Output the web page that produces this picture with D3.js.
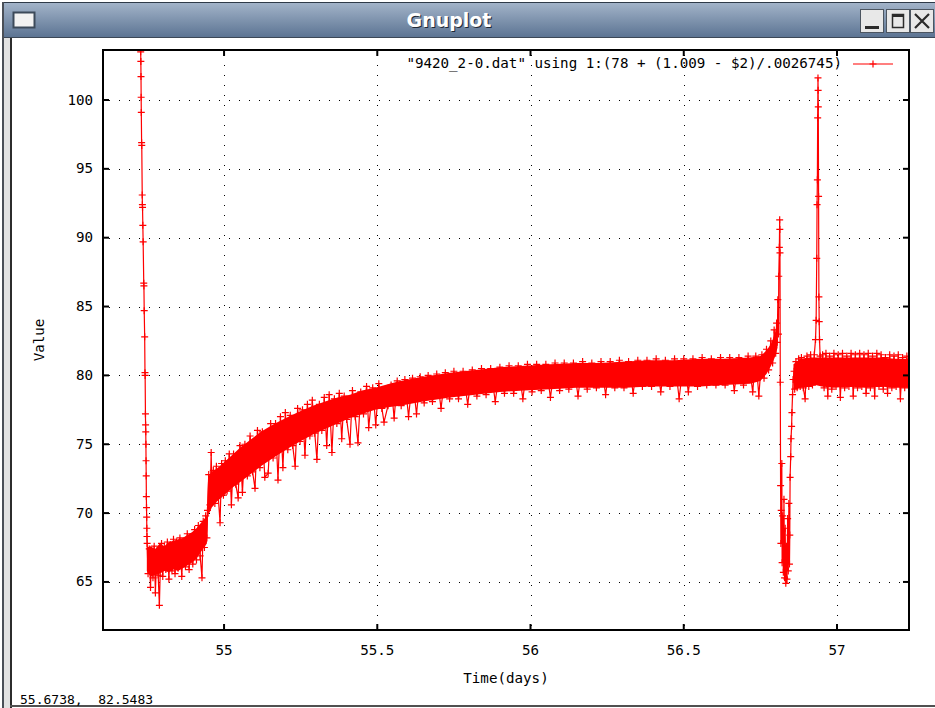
<!DOCTYPE html>
<html>
<head>
<meta charset="utf-8">
<script src="https://cdn.jsdelivr.net/npm/d3@7"></script>
<style>
    body { margin: 0; background: #fff; }
    svg { display: block; }
    .mono { font-family: "DejaVu Sans Mono", "Liberation Mono", monospace; font-size: 14.2px; fill: #000; white-space: pre; }
    .status { font-family: "DejaVu Sans Mono", "Liberation Mono", monospace; font-size: 13px; fill: #000; white-space: pre; }
</style>
</head>
<body>
<svg id="chart" width="935" height="708"></svg>
<script>
// ---- data: [time(days), value] ----
const startSpike = [
    [54.7270,108.0],[54.7280,103.5],[54.7285,102.8],[54.7290,101.7],[54.7295,100.2],[54.7300,99.1],
    [54.7310,96.9],[54.7315,96.7],[54.7330,93.1],[54.7335,92.4],[54.7340,92.2],[54.7350,90.9],
    [54.7360,89.7],[54.7380,86.7],[54.7385,86.5],[54.7395,84.7],[54.7410,82.8],[54.7420,80.2],
    [54.7425,80.0],[54.7435,77.2],[54.7440,76.4],[54.7445,75.9],[54.7450,75.0],[54.7455,73.8],
    [54.7460,72.7],[54.7465,71.2],[54.7470,70.4],[54.7475,69.7],[54.7480,68.9],[54.7485,68.3],
    [54.7490,67.8]
];
const lowPlateau = [
    [54.752,65.6],[54.756,67.4],[54.760,64.6],[54.764,67.2],[54.768,65.3],[54.772,67.6],
    [54.776,64.2],[54.780,67.0],[54.785,65.5],[54.789,63.3],[54.792,66.0],[54.796,67.8],
    [54.800,65.4],[54.805,67.5],[54.810,65.9],[54.815,67.9],[54.820,65.2],[54.825,67.7],
    [54.830,65.8],[54.835,68.1],[54.840,65.6],[54.845,67.9],[54.850,66.0],[54.856,68.2],
    [54.862,65.4],[54.868,68.0],[54.874,66.1],[54.880,68.5],[54.886,65.9],[54.892,68.3],
    [54.898,66.3],[54.904,68.8],[54.910,66.6],[54.916,69.1],[54.922,66.9],[54.928,65.3],
    [54.932,69.4],[54.936,67.5],[54.940,69.8],[54.944,68.2]
];
const riseSection = [
    [54.946,70.2],[54.950,72.8],[54.954,70.6],[54.958,74.4],[54.961,71.0],[54.965,73.1],
    [54.970,70.7],[54.975,73.4],[54.981,71.2],[54.987,69.3],[54.992,73.6],[54.998,71.3],
    [55.004,73.8],[55.010,71.6],[55.017,74.3],[55.024,70.6],[55.031,74.3],[55.038,72.1],
    [55.046,71.1],[55.052,74.9],[55.060,71.5],[55.068,75.0],[55.076,72.7],[55.085,75.6],
    [55.093,73.0],[55.101,71.8],[55.109,76.0],[55.117,73.3],[55.125,75.9],[55.133,72.6],
    [55.144,72.9],[55.152,76.5],[55.160,74.0],[55.168,76.5],[55.176,72.4],[55.184,77.0],
    [55.192,73.3],[55.200,77.3],[55.208,74.6],[55.216,77.1],[55.224,74.9],[55.232,73.4],
    [55.240,77.6],[55.248,75.2],[55.256,77.5],[55.264,74.2],[55.272,77.9],[55.280,75.6],
    [55.288,78.2],[55.296,75.8],[55.303,73.9],[55.311,77.9],[55.319,76.0],[55.327,78.4],
    [55.335,74.9],[55.343,78.6],[55.352,74.4],[55.360,78.3],[55.368,76.5],[55.376,78.7],
    [55.384,75.4],[55.392,78.5],[55.400,76.8],[55.411,75.0],[55.419,78.9],[55.428,77.0],
    [55.437,75.1],[55.446,78.8],[55.455,77.2],[55.465,79.2],[55.472,76.2],[55.485,79.1],
    [55.495,76.4],[55.505,79.4],[55.515,77.6],[55.522,76.6],[55.535,77.8],[55.545,79.3],
    [55.555,76.9],[55.565,79.6],[55.578,77.8],[55.590,79.7],[55.602,77.0],[55.615,79.8],
    [55.628,77.2],[55.640,79.9],[55.653,78.0],[55.666,80.0],[55.680,78.1],[55.694,80.1],
    [55.708,77.6],[55.722,80.2],[55.736,78.3],[55.750,80.3],[55.765,78.3],[55.780,80.3],
    [55.795,77.9],[55.810,80.4],[55.825,78.5],[55.840,80.5],[55.855,78.6],[55.870,80.5],
    [55.885,78.1],[55.900,80.6],[55.915,78.7],[55.930,80.7],[55.945,78.7],[55.960,80.7],
    [55.975,78.3],[55.990,80.8],[56.005,78.8],[56.020,80.8],[56.035,78.9],[56.050,80.8],
    [56.065,78.4],[56.080,80.9],[56.095,78.9],[56.110,80.9],[56.125,79.0],[56.140,80.9],
    [56.155,78.5],[56.170,81.0],[56.185,79.0],[56.200,80.9],[56.215,79.1],[56.230,81.0],
    [56.245,78.6],[56.260,81.0],[56.275,79.1],[56.290,81.1],[56.305,79.1],[56.320,81.0],
    [56.335,78.7],[56.350,81.1],[56.365,79.2],[56.380,81.1],[56.395,79.2],[56.410,81.2],
    [56.425,78.8],[56.440,81.1],[56.455,79.2],[56.470,81.2],[56.485,78.3],[56.500,81.2],
    [56.515,78.8],[56.530,81.2],[56.545,79.2],[56.560,81.3],[56.575,79.3],[56.590,81.2],
    [56.605,79.3],[56.620,81.3],[56.635,79.3],[56.650,81.3],[56.665,78.9],[56.680,81.3],
    [56.695,79.3],[56.710,81.4],[56.725,78.8],[56.735,81.4],[56.745,78.5],[56.755,81.5],
    [56.762,79.8],[56.770,81.9],[56.777,80.4],[56.784,82.5],[56.790,80.9],[56.795,83.3],
    [56.800,81.6]
];
const firstPeakDip = [
    [56.803,83.8],[56.805,82.4],[56.807,85.5],[56.809,83.0],[56.810,87.2],[56.812,89.3],
    [56.813,91.3],[56.8135,90.6],[56.814,88.9],[56.815,79.5],[56.816,72.0],[56.817,67.8],
    [56.818,70.2],[56.820,73.6],[56.821,66.4],[56.823,69.8],[56.825,65.7],[56.827,71.0],
    [56.829,65.3],[56.831,68.9],[56.833,64.9],[56.835,67.6],[56.837,65.2],[56.839,69.6],
    [56.841,65.8],[56.843,70.7],[56.845,66.3],[56.846,68.4],[56.847,72.6],[56.849,74.1],
    [56.850,75.4],[56.852,76.3],[56.853,77.3],[56.855,78.6],[56.857,79.7],[56.860,80.3]
];
const tailSection = [
    [56.862,79.0],[56.866,81.0],[56.870,79.1],[56.875,81.2],[56.880,79.2],[56.884,81.3],
    [56.890,79.1],[56.896,78.3],[56.902,81.4],[56.908,79.2],[56.914,81.5],[56.920,79.3],
    [56.926,81.5],[56.930,82.6],[56.932,84.0],[56.934,88.5],[56.935,92.4],[56.936,94.2],
    [56.937,98.7],[56.938,101.6],[56.9385,100.7],[56.939,99.5],[56.940,93.0],[56.941,85.7],
    [56.942,83.9],[56.943,82.6],[56.945,81.4],[56.948,79.8],[56.953,81.5],[56.958,79.1],
    [56.964,81.6],[56.970,78.5],[56.976,81.4],[56.983,79.0],[56.990,81.6],[56.997,79.2],
    [57.004,81.5],[57.011,78.4],[57.018,81.6],[57.025,79.1],[57.032,81.4],[57.039,79.2],
    [57.046,81.6],[57.053,78.5],[57.060,81.5],[57.067,79.1],[57.074,81.6],[57.081,79.2],
    [57.088,81.5],[57.095,78.7],[57.102,81.6],[57.109,79.1],[57.116,81.4],[57.123,78.5],
    [57.130,81.6],[57.137,79.2],[57.144,81.5],[57.151,79.0],[57.158,81.3],[57.165,78.7],
    [57.172,81.5],[57.179,79.1],[57.186,81.4],[57.193,79.2],[57.200,81.5],[57.207,78.3],
    [57.214,81.3],[57.221,79.1],[57.228,81.4],[57.235,79.3],[57.240,80.6]
];

// dense part of the trace: [time, low, high]
const bandMain = [
    [54.748,65.8,67.5],[54.760,65.4,67.6],[54.775,65.5,67.4],[54.790,65.6,67.8],[54.805,65.8,67.6],
    [54.820,65.7,67.9],[54.835,65.9,68.0],[54.850,65.8,68.1],[54.865,66.0,68.2],[54.880,66.2,68.4],
    [54.895,66.4,68.6],[54.910,66.7,68.9],[54.925,67.2,69.3],[54.944,67.8,69.8],[54.948,69.8,72.6],
    [54.960,70.4,73.0],[54.975,70.8,73.2],[54.990,71.1,73.5],[55.010,71.5,73.9],[55.030,71.9,74.3],
    [55.055,72.3,74.8],[55.085,72.8,75.3],[55.120,73.4,75.9],[55.166,74.1,76.5],[55.210,74.7,77.0],
    [55.248,75.2,77.4],[55.290,75.7,77.8],[55.330,76.1,78.1],[55.370,76.5,78.4],[55.411,76.9,78.6],
    [55.450,77.2,78.9],[55.493,77.5,79.1],[55.540,77.7,79.4],[55.574,77.8,79.6],[55.650,78.1,79.9],
    [55.737,78.4,80.2],[55.820,78.6,80.4],[55.900,78.8,80.6],[55.980,78.9,80.7],[56.064,79.0,80.8],
    [56.150,79.1,80.9],[56.227,79.1,80.9],[56.310,79.1,81.0],[56.390,79.2,81.1],[56.470,79.2,81.1],
    [56.553,79.2,81.2],[56.630,79.3,81.2],[56.716,79.4,81.3],[56.750,79.6,81.4],[56.770,80.1,81.8],
    [56.785,80.7,82.3],[56.797,81.3,83.0],[56.806,82.0,84.0]
];
const bandTail = [
    [56.858,79.0,80.8],[56.880,79.1,81.2],[56.910,79.2,81.3],[56.930,79.3,81.3],[56.950,79.2,81.3],
    [56.990,79.1,81.3],[57.040,79.2,81.3],[57.090,79.1,81.3],[57.140,79.2,81.3],[57.190,79.1,81.2],
    [57.240,79.1,81.2]
];

const xTicks = [55, 55.5, 56, 56.5, 57];
const xTickLabels = ["55", "55.5", "56", "56.5", "57"];
const yTicks = [65, 70, 75, 80, 85, 90, 95, 100];
const yTickLabels = ["65", "70", "75", "80", "85", "90", "95", "100"];
const legendText = '"9420_2-0.dat" using 1:(78 + (1.009 - $2)/.0026745)';
const statusText = "55.6738,  82.5483";

let svg = d3.select('#chart');
let defs = svg.append('defs');

//---- window chrome ----
let grad = defs.append('linearGradient').attr('id', 'titleGrad')
    .attr('x1', 0).attr('y1', 0).attr('x2', 0).attr('y2', 1);
grad.append('stop').attr('offset', '0%').attr('stop-color', '#a4b5ca');
grad.append('stop').attr('offset', '100%').attr('stop-color', '#5c7493');

svg.append('rect').attr('x', 2).attr('y', 2).attr('width', 940).attr('height', 35)
    .attr('fill', 'url(#titleGrad)');
svg.append('line').attr('x1', 2).attr('x2', 935).attr('y1', 2.5).attr('y2', 2.5)
    .attr('stroke', '#2e3a48');
svg.append('line').attr('x1', 2).attr('x2', 935).attr('y1', 37.5).attr('y2', 37.5)
    .attr('stroke', '#3b4756');

// left frame
svg.append('rect').attr('x', 4).attr('y', 38).attr('width', 7).attr('height', 670).attr('fill', '#e2e2e2');
svg.append('rect').attr('x', 2).attr('y', 2).attr('width', 2).attr('height', 706).attr('fill', '#4a4f57');
svg.append('rect').attr('x', 10).attr('y', 38).attr('width', 2).attr('height', 670).attr('fill', '#2c2c2c');
// bottom edge
svg.append('rect').attr('x', 10).attr('y', 705).attr('width', 925).attr('height', 2).attr('fill', '#505050');

// window menu icon
svg.append('rect').attr('x', 13.5).attr('y', 12.5).attr('width', 21).attr('height', 15)
    .attr('fill', '#f2f2f2').attr('stroke', '#3c4a5a').attr('stroke-width', 2);

// title
svg.append('text').attr('x', 450).attr('y', 28).attr('text-anchor', 'middle')
    .style('font-family', '"DejaVu Sans"').style('font-weight', 'bold').style('font-size', '19px')
    .style('fill', '#1e2835').text('Gnuplot');
svg.append('text').attr('x', 449).attr('y', 27).attr('text-anchor', 'middle')
    .style('font-family', '"DejaVu Sans"').style('font-weight', 'bold').style('font-size', '19px')
    .style('fill', '#ffffff').text('Gnuplot');

// buttons
[860, 886, 910].forEach(function(bx, i){
    svg.append('rect').attr('x', bx + 0.5).attr('y', 9.5).attr('width', 23).attr('height', 23)
        .attr('fill', '#e8e8e8').attr('stroke', '#4c5560');
    if (i === 0) {
        svg.append('rect').attr('x', bx + 5).attr('y', 26).attr('width', 14).attr('height', 3).attr('fill', '#2b2b2b');
    } else if (i === 1) {
        svg.append('rect').attr('x', bx + 6.5).attr('y', 14.5).attr('width', 11).attr('height', 13)
            .attr('fill', 'none').attr('stroke', '#2b2b2b').attr('stroke-width', 1.5);
        svg.append('rect').attr('x', bx + 6).attr('y', 14).attr('width', 12).attr('height', 3).attr('fill', '#2b2b2b');
    } else {
        svg.append('path').attr('d', 'M' + (bx + 5) + ',14 L' + (bx + 19) + ',28 M' + (bx + 19) + ',14 L' + (bx + 5) + ',28')
            .attr('stroke', '#2b2b2b').attr('stroke-width', 2.2);
    }
});

//---- plot ----
let plot = {left: 103, right: 909, top: 50, bottom: 630};

let x = d3.scaleLinear().domain([54.605, 57.235]).range([plot.left, plot.right]);
let y = d3.scaleLinear().domain([61.51, 103.63]).range([plot.bottom, plot.top]);

defs.append('clipPath').attr('id', 'plotClip')
    .append('rect').attr('x', plot.left).attr('y', plot.top)
    .attr('width', plot.right - plot.left).attr('height', plot.bottom - plot.top);

// dotted grid
let grid = svg.append('g').attr('stroke', '#000').attr('stroke-width', 1)
    .attr('stroke-dasharray', '1,9').attr('shape-rendering', 'crispEdges');
xTicks.forEach(function(t){
    let px = Math.round(x(t)) + 0.5;
    grid.append('line').attr('x1', px).attr('x2', px).attr('y1', plot.bottom - 4).attr('y2', plot.top + 4);
});
yTicks.forEach(function(t){
    let py = Math.round(y(t)) + 0.5;
    grid.append('line').attr('x1', plot.left + 6).attr('x2', plot.right - 4).attr('y1', py).attr('y2', py);
});

// data
let trace = [].concat(startSpike, lowPlateau, riseSection, firstPeakDip, tailSection);
let dataG = svg.append('g').attr('clip-path', 'url(#plotClip)');

let band = d3.area()
    .x(function(d){ return x(d[0]); })
    .y0(function(d){ return y(d[1]); })
    .y1(function(d){ return y(d[2]); });
[bandMain, bandTail].forEach(function(b){
    dataG.append('path').attr('d', band(b)).attr('fill', '#ff0000');
});

let line = d3.line()
    .x(function(d){ return x(d[0]); })
    .y(function(d){ return y(d[1]); });
dataG.append('path').attr('d', line(trace))
    .attr('fill', 'none').attr('stroke', '#ff0000').attr('stroke-width', 1.2);

let cross = 3.5;
let crossPath = trace.map(function(d){
    let px = x(d[0]), py = y(d[1]);
    return 'M' + (px - cross) + ',' + py + 'h' + (2 * cross) + 'M' + px + ',' + (py - cross) + 'v' + (2 * cross);
}).join('');
svg.append('path').attr('d', crossPath)
    .attr('fill', 'none').attr('stroke', '#ff0000').attr('stroke-width', 1.2)
    .attr('clip-path', 'url(#plotClip)');

// axes: ticks on all four sides, pointing in
let tickLen = -6;
let axisB = svg.append('g').attr('transform', 'translate(0,' + plot.bottom + ')')
    .call(d3.axisBottom(x).tickValues(xTicks).tickFormat(function(d, i){ return xTickLabels[i]; })
        .tickSizeInner(tickLen).tickSizeOuter(0).tickPadding(15).offset(0));
let axisT = svg.append('g').attr('transform', 'translate(0,' + plot.top + ')')
    .call(d3.axisTop(x).tickValues(xTicks).tickFormat('').tickSizeInner(tickLen).tickSizeOuter(0).offset(0));
let axisL = svg.append('g').attr('transform', 'translate(' + plot.left + ',0)')
    .call(d3.axisLeft(y).tickValues(yTicks).tickFormat(function(d, i){ return yTickLabels[i]; })
        .tickSizeInner(tickLen).tickSizeOuter(0).tickPadding(10).offset(0));
let axisR = svg.append('g').attr('transform', 'translate(' + plot.right + ',0)')
    .call(d3.axisRight(y).tickValues(yTicks).tickFormat('').tickSizeInner(tickLen).tickSizeOuter(0).offset(0));

[axisB, axisT, axisL, axisR].forEach(function(a){
    a.select('.domain').remove();
    a.attr('font-family', null).attr('font-size', null);
    a.selectAll('.tick line').attr('stroke', '#000').attr('stroke-width', 2);
    a.selectAll('.tick text').attr('class', 'mono');
});

svg.append('rect').attr('x', plot.left).attr('y', plot.top)
    .attr('width', plot.right - plot.left).attr('height', plot.bottom - plot.top)
    .attr('fill', 'none').attr('stroke', '#000').attr('stroke-width', 2);

// axis titles
svg.append('text').attr('class', 'mono').attr('x', (plot.left + plot.right) / 2).attr('y', 683)
    .attr('text-anchor', 'middle').text('Time(days)');
svg.append('text').attr('class', 'mono').attr('transform', 'translate(44,' + ((plot.top + plot.bottom) / 2) + ') rotate(-90)')
    .attr('text-anchor', 'middle').text('Value');

// key
svg.append('text').attr('class', 'mono').attr('x', 842).attr('y', 68)
    .attr('text-anchor', 'end').text(legendText);
svg.append('line').attr('x1', 853).attr('x2', 893).attr('y1', 64).attr('y2', 64)
    .attr('stroke', '#ff0000').attr('stroke-width', 1.2);
svg.append('path').attr('d', 'M' + (873 - cross) + ',64h' + (2 * cross) + 'M873,' + (64 - cross) + 'v' + (2 * cross))
    .attr('stroke', '#ff0000').attr('stroke-width', 1.2);

// mouse position readout
svg.append('text').attr('class', 'status').attr('x', 20).attr('y', 704).text(statusText);
</script>
</body>
</html>
